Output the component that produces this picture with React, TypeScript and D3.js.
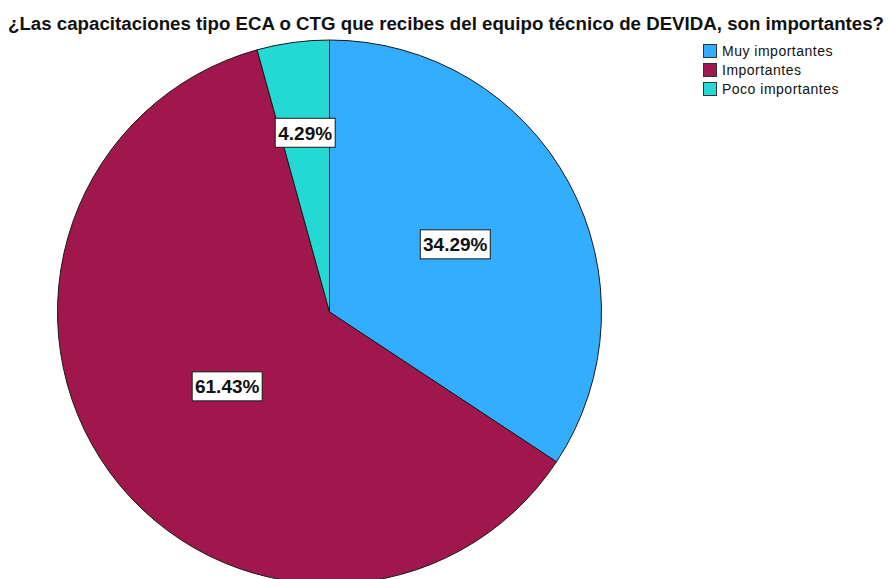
import React from "react";
import * as d3 from "d3";

const title = "¿Las capacitaciones tipo ECA o CTG que recibes del equipo técnico de DEVIDA, son importantes?";
const categories = ["Muy importantes", "Importantes", "Poco importantes"];
const percents = [34.29, 61.43, 4.29];
const colors = ["#33ADFF", "#A0174E", "#24D8D4"];

// label placement (fraction of radius)
const labelRadiusFrac = [0.525, 0.465, 0.665];

const W = 892;
const H = 579;
const cx = 329.5;
const cy = 312;
const R = 272;

export default function App() {
  const pie = d3
    .pie<number>()
    .sort(null)
    .value((d) => d)
    .startAngle(0)
    .endAngle(2 * Math.PI);
  const arcs = pie(percents);
  const arc = d3.arc<d3.PieArcDatum<number>>().innerRadius(0).outerRadius(R);

  return (
    <svg
      width={W}
      height={H}
      style={{ position: "absolute", left: 0, top: 0, background: "#fff" }}
      fontFamily="'Liberation Sans', Arial, sans-serif"
    >
      <rect x={0} y={0} width={W} height={H} fill="#fff" />
      <text
        x={446}
        y={30}
        textAnchor="middle"
        fontSize={18}
        fontWeight="bold"
        fill="#111"
        textLength={876}
        lengthAdjust="spacingAndGlyphs"
      >
        {title}
      </text>
      <g transform={`translate(${cx},${cy})`}>
        {arcs.map((a, i) => (
          <path
            key={i}
            d={arc(a) || ""}
            fill={colors[i]}
            stroke="#1a1a1a"
            strokeWidth={1}
            strokeLinejoin="round"
          />
        ))}
        {arcs.map((a, i) => {
          const mid = (a.startAngle + a.endAngle) / 2;
          const r = R * labelRadiusFrac[i];
          const x = Math.sin(mid) * r;
          const y = -Math.cos(mid) * r;
          const label = `${percents[i].toFixed(2)}%`;
          const bw = label.length * 10 + 10;
          const bh = 29;
          return (
            <g key={"l" + i} transform={`translate(${x},${y})`}>
              <rect
                x={-bw / 2}
                y={-bh / 2}
                width={bw}
                height={bh}
                fill="#fff"
                stroke="#1a1a1a"
                strokeWidth={1}
              />
              <text
                x={0}
                y={7}
                textAnchor="middle"
                fontSize={19}
                fontWeight="bold"
                fill="#111"
              >
                {label}
              </text>
            </g>
          );
        })}
      </g>
      <g>
        {categories.map((c, i) => (
          <g key={c} transform={`translate(703,${44 + i * 19})`}>
            <rect x={0.5} y={0.5} width={13} height={13} fill={colors[i]} stroke="#333" strokeWidth={1} />
            <text x={19} y={12} fontSize={14} fill="#111" letterSpacing={0.5}>
              {c}
            </text>
          </g>
        ))}
      </g>
    </svg>
  );
}
